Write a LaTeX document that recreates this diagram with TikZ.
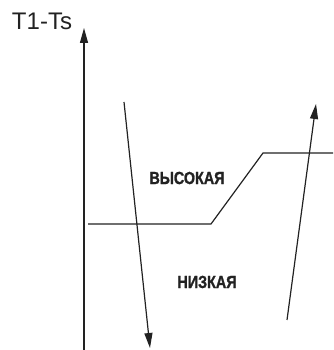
\documentclass[tikz,border=0pt]{standalone}
\usepackage{fontspec}
\setmainfont{Liberation Sans}
\newfontfamily\condbold[FakeStretch=0.82,FakeBold=1.2]{Liberation Sans Bold}
\usetikzlibrary{arrows.meta}
\definecolor{ink}{HTML}{222222}
\tikzset{
  line/.style={draw=ink, line width=1.2pt},
  arr/.style={line, -{Triangle[length=15pt,width=8pt]}},
  zone/.style={font=\condbold\fontsize{17.5}{17.5}\selectfont, text=ink, inner sep=0pt},
  axlabel/.style={font=\fontsize{24}{24}\selectfont, text=ink, inner sep=0pt}
}
\begin{document}
\begin{tikzpicture}[x=1pt,y=1pt]
\useasboundingbox (0,0) rectangle (333,350);
% axis
\coordinate (axb) at (84,0);
\coordinate (axt) at (84,322);
\draw[arr] (axb) -- (axt);
\node[axlabel] (lbl) at (42,329) {T1-Ts};
% step line
\coordinate (s1) at (88,126);
\coordinate (s2) at (211,126);
\coordinate (s3) at (263,197);
\coordinate (s4) at (333,197);
\draw[line] (s1) -- (s2) -- (s3) -- (s4);
% down arrow
\coordinate (d1) at (124,248);
\coordinate (d2) at (150,2);
\draw[arr] (d1) -- (d2);
% up arrow
\coordinate (u1) at (287,30);
\coordinate (u2) at (316,246);
\draw[arr] (u1) -- (u2);
% labels
\node[zone] (hi) at (187,172) {ВЫСОКАЯ};
\node[zone] (lo) at (207,68) {НИЗКАЯ};
\end{tikzpicture}
\end{document}
